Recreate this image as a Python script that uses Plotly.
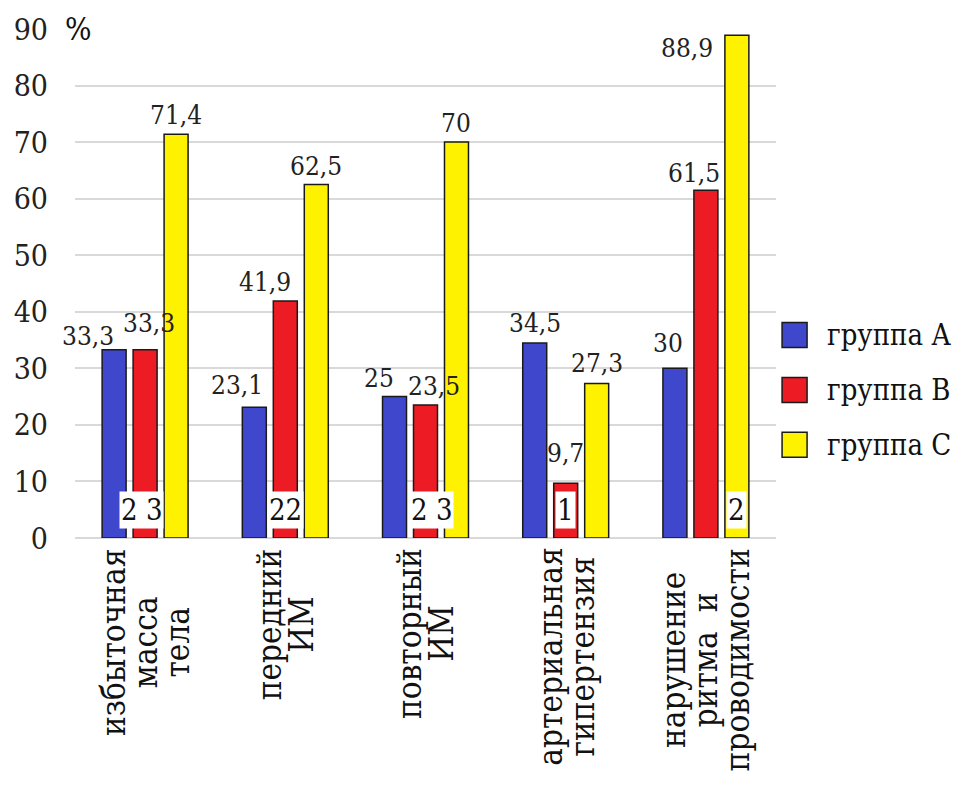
import plotly.graph_objects as go

# Categories (each entry is the list of lines of the axis caption)
categories = [
    ["избыточная", "масса", "тела"],
    ["передний", "ИМ"],
    ["повторный", "ИМ"],
    ["артериальная", "гипертензия"],
    ["нарушение", "ритма\u00a0\u00a0и", "проводимости"],
]

series_names = ["группа А", "группа В", "группа С"]
group_a = [33.3, 23.1, 25, 34.5, 30]
group_b = [33.3, 41.9, 23.5, 9.7, 61.5]
group_c = [71.4, 62.5, 70, 27.3, 88.9]

# Small count labels written on white boxes near the baseline
count_labels = ["2 3", "22", "2 3", "1", "2"]
count_label_series = [1, 1, 1, 1, 2]

y_ticks = [0, 10, 20, 30, 40, 50, 60, 70, 80, 90]

# ---- styling ----
colors = ["#3F48CC", "#ED1C24", "#FFF200"]
outline = "#1a1a1a"
serif = "DejaVu Serif Condensed, DejaVu Serif"
text_col = "#222222"
BARGAP = 0.337
BARGROUPGAP = 0.226

# Pixel nudges (dx, dy) for value labels to keep them from colliding
label_nudges = [
    [(-26, -5), (-17, 3), (-16, 0), (0, 1), (-7, 6)],
    [(4, 8), (-20, 0), (8, 0), (0, 11), (-12, -2)],
    [(0, 0), (0, 0), (0, 0), (0, 2), (-50, -32)],
]
count_nudges = [(-4, 0), (0, 0), (6, 0), (0, 0), (0, 0)]

x_idx = list(range(len(categories)))
series_values = [group_a, group_b, group_c]

fig = go.Figure()
for name, vals, col in zip(series_names, series_values, colors):
    fig.add_trace(go.Bar(
        x=x_idx, y=vals, name=name,
        marker=dict(color=col, line=dict(color=outline, width=1.5)),
        showlegend=False, hoverinfo="skip",
    ))


def fmt(v):
    return str(int(v)) if float(v).is_integer() else f"{v}".replace(".", ",")


slot = (1 - BARGAP) / 3
annotations = []

# value labels above bars
for j, vals in enumerate(series_values):
    for i, v in enumerate(vals):
        dx, dy = label_nudges[j][i]
        annotations.append(dict(
            x=i + (j - 1) * slot, y=v, xref="x", yref="y",
            text=fmt(v), showarrow=False, yanchor="bottom", xanchor="center",
            xshift=dx, yshift=2 + dy,
            font=dict(family=serif, size=26, color=text_col),
        ))

# count labels near the baseline
for i, (lab, sj) in enumerate(zip(count_labels, count_label_series)):
    dx, dy = count_nudges[i]
    annotations.append(dict(
        x=i + (sj - 1) * slot, y=0, xref="x", yref="y",
        text=lab, showarrow=False, yanchor="bottom", xanchor="center",
        xshift=dx, yshift=9 + dy, bgcolor="white", borderpad=1,
        font=dict(family=serif, size=29, color="#111111"),
    ))

# rotated category captions (tight line spacing)
for i, lines in enumerate(categories):
    txt = "<br>".join(f'<span style="font-size:33px">{ln}</span>' for ln in lines)
    annotations.append(dict(
        x=i, y=0, xref="x", yref="y", text=txt, showarrow=False,
        textangle=-90, xanchor="center", yanchor="top", yshift=-8,
        align="center", font=dict(family=serif, size=24.5, color="#111111"),
    ))

# unit sign at the top of the value axis
annotations.append(dict(
    x=0, y=90, xref="paper", yref="y", text="%", showarrow=False,
    xanchor="left", yanchor="middle", xshift=-12, bgcolor="white",
    font=dict(family=serif, size=31, color="#111111"),
))

# legend drawn as boxes + captions on the right
shapes = []
leg_top = 0.399
leg_step = 0.108
half_w = 12.5 / 701
half_h = 12.5 / 509
for k, (name, col) in enumerate(zip(series_names, colors)):
    yc = leg_top - k * leg_step
    xc = 1.0265
    shapes.append(dict(
        type="rect", xref="paper", yref="paper",
        x0=xc - half_w, x1=xc + half_w, y0=yc - half_h, y1=yc + half_h,
        fillcolor=col, line=dict(color=outline, width=1.5),
    ))
    annotations.append(dict(
        x=1.07, y=yc, xref="paper", yref="paper", text=name,
        showarrow=False, xanchor="left", yanchor="middle",
        font=dict(family=serif, size=29, color="#111111"),
    ))

fig.update_layout(
    width=976, height=789,
    margin=dict(l=75, r=200, t=29, b=251),
    paper_bgcolor="white", plot_bgcolor="white",
    font=dict(family=serif),
    barmode="group", bargap=BARGAP, bargroupgap=BARGROUPGAP,
    annotations=annotations, shapes=shapes, showlegend=False,
    xaxis=dict(
        tickmode="array", tickvals=x_idx, ticktext=[""] * len(x_idx),
        range=[-0.5, len(x_idx) - 0.5], showgrid=False, zeroline=False,
        showline=False, ticks="",
    ),
    yaxis=dict(
        range=[0, 90], tickmode="array", tickvals=y_ticks,
        ticktext=[str(t) for t in y_ticks],
        showgrid=True, gridcolor="#d9d9d9", gridwidth=1.5,
        zeroline=True, zerolinecolor="#d9d9d9", zerolinewidth=1.5,
        showline=False, ticks="", ticklabelstandoff=26,
        tickfont=dict(family=serif, size=30, color="#222222"),
    ),
)

fig.write_html("out.html")
